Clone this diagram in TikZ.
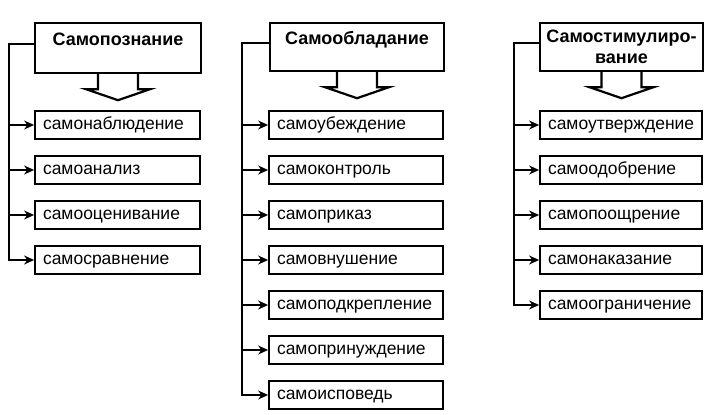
\documentclass[tikz,border=0pt]{standalone}
\usepackage{fontspec}
\setmainfont{Liberation Sans}
\usetikzlibrary{arrows.meta,positioning}

\begin{document}
\begin{tikzpicture}[x=1pt,y=1pt,node distance=45pt,
  font=\fontsize{17.5}{20}\selectfont,
  head node/.style={draw,line width=2.2pt,font=\fontsize{18}{21}\selectfont\bfseries,
    align=center,anchor=north,inner ysep=4pt},
  one line/.style={text height=17pt,text depth=23pt},
  item node/.style={draw,line width=1.8pt,minimum height=28pt,inner xsep=8pt,
    text height=13pt,text depth=4pt,align=left,text width=#1},
  arr/.style={line width=1.5pt,-{Stealth[length=10pt,width=9pt]}},
  pointer/.style={line width=2.2pt,line join=miter}]

  \useasboundingbox (0,0) rectangle (710,-415);

  % headers
  \node[head node,one line,minimum width=166pt,minimum height=50pt] (h1) at (118,-22) {Самопознание};
  \node[head node,one line,minimum width=174pt,minimum height=48pt] (h2) at (357,-22) {Самообладание};
  \node[head node,minimum width=163pt,minimum height=48pt] (h3) at (621.5,-22) {Самостимулиро-\\вание};

  % first column
  \node[item node=149pt] (a1) at (117.5,-125) {самонаблюдение};
  \node[item node=149pt] (a2) [below of=a1] {самоанализ};
  \node[item node=149pt] (a3) [below of=a2] {самооценивание};
  \node[item node=149pt] (a4) [below of=a3] {самосравнение};

  % second column
  \node[item node=158pt] (b1) at (356,-125) {самоубеждение};
  \node[item node=158pt] (b2) [below of=b1] {самоконтроль};
  \node[item node=158pt] (b3) [below of=b2] {самоприказ};
  \node[item node=158pt] (b4) [below of=b3] {самовнушение};
  \node[item node=158pt] (b5) [below of=b4] {самоподкрепление};
  \node[item node=158pt] (b6) [below of=b5] {самопринуждение};
  \node[item node=158pt] (b7) [below of=b6] {самоисповедь};

  % third column
  \node[item node=146pt] (c1) at (621,-125) {самоутверждение};
  \node[item node=146pt] (c2) [below of=c1] {самоодобрение};
  \node[item node=146pt] (c3) [below of=c2] {самопоощрение};
  \node[item node=146pt] (c4) [below of=c3] {самонаказание};
  \node[item node=146pt] (c5) [below of=c4] {самоограничение};

  % block arrows
  \foreach \h in {h1,h2,h3}
    \draw[pointer] ([xshift=-20pt]\h.south) -- ++(0,-15) -- ++(-12,0) -- ++(32,-11)
      -- ++(32,11) -- ++(-12,0) -- ++(0,15);

  % connectors
  \foreach \i in {1,...,4}
    \draw[arr] ([yshift=4pt]h1.west) -| ([xshift=-25pt]a\i.west) -- (a\i.west);
  \foreach \i in {1,...,7}
    \draw[arr] ([yshift=4pt]h2.west) -| ([xshift=-26pt]b\i.west) -- (b\i.west);
  \foreach \i in {1,...,5}
    \draw[arr] ([yshift=4pt]h3.west) -| ([xshift=-25pt]c\i.west) -- (c\i.west);
\end{tikzpicture}
\end{document}
